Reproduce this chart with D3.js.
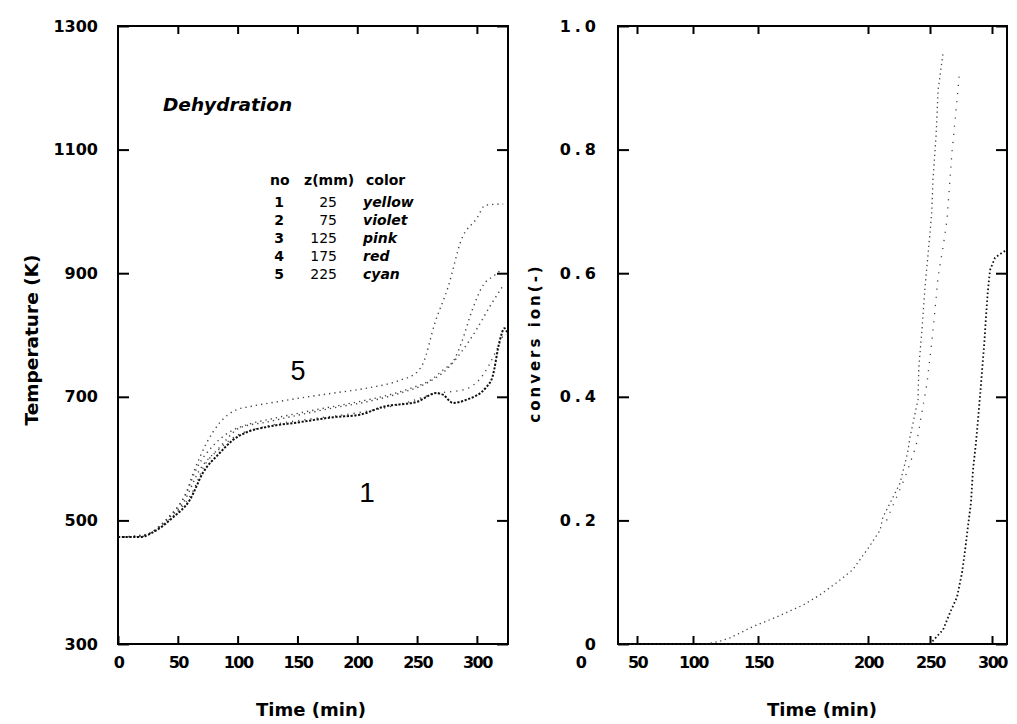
<!DOCTYPE html>
<meta charset="utf-8">
<style>
body { margin: 0; background: #fff; }
.tick text { font-family: "DejaVu Sans", sans-serif; font-weight: bold; fill: #000; }
.tick line { stroke: #000; stroke-width: 2; }
.frame { fill: none; stroke: #000; stroke-width: 2; }
.title { font-family: "DejaVu Sans", sans-serif; font-weight: bold; fill: #000; }
.legend { font-family: "DejaVu Sans", sans-serif; font-weight: bold; font-size: 14px; fill: #000; }
</style>
<svg width="1017" height="724"></svg>
<script src="https://d3js.org/d3.v7.min.js"></script>
<script>

// temperature (K) vs time (min), zones 1..5
var zone1 = [[0,473],[18,473],[32,484],[46,505],[60,533],[71,577],[85,609],[96,630],[108,643],[124,651],[152,659],[180,667],[202,671],[222,684],[250,692],[266,706],[272,703],[280,690],[291,695],[308,716],[313,732],[319,790],[323,811],[326,800]];
var zone2 = [[0,473],[20,474],[35,490],[50,515],[62,545],[72,588],[85,616],[100,638],[115,648],[130,655],[160,664],[200,674],[240,690],[265,705],[290,712],[305,735],[315,770],[322,800]];
var zone3 = [[0,473],[20,475],[40,500],[55,530],[68,581],[83,614],[102,650],[124,659],[152,671],[180,682],[208,692],[236,706],[258,722],[275,745],[288,775],[300,810],[312,850],[322,880]];
var zone4 = [[0,473],[22,476],[42,505],[56,540],[66,585],[80,622],[95,645],[110,656],[130,665],[160,677],[190,688],[220,700],[245,714],[262,728],[272,744],[281,760],[287,787],[296,840],[305,880],[315,897],[320,905]];
var zone5 = [[0,473],[25,478],[45,510],[57,545],[63,577],[74,625],[85,658],[99,679],[110,684],[133,692],[152,698],[180,706],[208,714],[236,727],[250,740],[255,754],[265,820],[276,878],[287,954],[300,989],[307,1010],[322,1012]];

// conversion (-) vs time (min)
var convA = [[110,0],[120,0.004],[128.5,0.01],[146,0.028],[158.6,0.044],[170.5,0.063],[178,0.079],[186,0.1],[193,0.12],[199.5,0.152],[209.7,0.184],[212,0.205],[225.8,0.26],[232,0.31],[233.9,0.335],[240.3,0.395],[241,0.448],[243.5,0.508],[246,0.578],[250,0.665],[251.5,0.702],[252.4,0.751],[254.8,0.82],[255.6,0.853],[256.5,0.896],[260.5,0.956]];
var convA2 = [[215,0.2],[230,0.27],[238.7,0.32],[247.6,0.422],[251.6,0.492],[254,0.54],[256.5,0.594],[260.5,0.642],[263.7,0.686],[267.7,0.795],[271.8,0.88],[274,0.929]];
var convB = [[33,0],[100,0],[200,0],[250,0],[260.5,0.023],[266,0.05],[271.8,0.076],[275.8,0.115],[278,0.147],[280.6,0.19],[283,0.228],[284.7,0.282],[287,0.325],[288.7,0.362],[290.3,0.4],[292,0.443],[294,0.492],[295,0.524],[296.5,0.568],[298.4,0.605],[302.4,0.625],[308,0.633],[312,0.638]];

var timeTicks = [0, 50, 100, 150, 200, 250, 300];
var tempTicks = [300, 500, 700, 900, 1100, 1300];
var convTicks = [0, 0.2, 0.4, 0.6, 0.8, 1.0];
var convLabels = ["0", "0.2", "0.4", "0.6", "0.8", "1.0"];

var legendHead = ["no", "z(mm)", "color"];
var legendNo = ["1", "2", "3", "4", "5"];
var legendZ = ["25", "75", "125", "175", "225"];
var legendColor = ["yellow", "violet", "pink", "red", "cyan"];

var svg = d3.select("svg");

// ---- left panel ----
var x1 = d3.scaleLinear().domain([0, 326]).range([118, 508]);
var y1 = d3.scaleLinear().domain([300, 1300]).range([644, 26]);

var left = svg.append("g");

left.append("g")
    .attr("transform", "translate(0,644)")
    .call(d3.axisBottom(x1).tickValues(timeTicks).tickSize(-8).tickPadding(13).tickFormat(d3.format("d")))
    .call(function(g) { g.select(".domain").remove(); })
    .call(function(g) { g.selectAll("text").attr("font-size", 16).attr("letter-spacing", -1.5); });
left.append("g")
    .attr("transform", "translate(0,26)")
    .call(d3.axisTop(x1).tickValues(timeTicks.slice(1)).tickSize(-8).tickFormat(""))
    .call(function(g) { g.select(".domain").remove(); });
left.append("g")
    .attr("transform", "translate(118,0)")
    .call(d3.axisLeft(y1).tickValues(tempTicks).tickSize(-11).tickPadding(20).tickFormat(d3.format("d")))
    .call(function(g) { g.select(".domain").remove(); })
    .call(function(g) { g.selectAll("text").attr("font-size", 16); });
left.append("g")
    .attr("transform", "translate(508,0)")
    .call(d3.axisRight(y1).tickValues(tempTicks).tickSize(-11).tickFormat(""))
    .call(function(g) { g.select(".domain").remove(); });

left.append("rect").attr("class", "frame")
    .attr("x", 118).attr("y", 26).attr("width", 390).attr("height", 618);

var line1 = d3.line()
    .x(function(d) { return x1(d[0]); })
    .y(function(d) { return y1(d[1]); })
    .curve(d3.curveMonotoneX);

var zones = [zone5, zone4, zone3, zone2, zone1];
left.selectAll(".zone")
  .data(zones)
  .enter().append("path")
    .attr("class", "zone")
    .attr("d", line1)
    .attr("fill", "none")
    .attr("stroke", function(d, i) { return i == 4 ? "#111" : "#444"; })
    .attr("stroke-width", function(d, i) { return i == 4 ? 2 : 1.4; })
    .attr("stroke-dasharray", function(d, i) { return i == 4 ? "2.2,1.6" : (i == 3 ? "1.2,5" : "1.3,4"); });

left.append("text")
    .attr("x", 163).attr("y", 111)
    .attr("font-family", "DejaVu Sans, sans-serif")
    .attr("font-weight", "bold").attr("font-style", "italic")
    .attr("font-size", 18.5)
    .text("Dehydration");

var lg = left.append("g").attr("class", "legend");
lg.append("text").attr("x", 270).attr("y", 185).text(legendHead[0]);
lg.append("text").attr("x", 304).attr("y", 185).text(legendHead[1]);
lg.append("text").attr("x", 366).attr("y", 185).text(legendHead[2]);
legendNo.forEach(function(n, i) {
  var yy = 207 + i * 18;
  lg.append("text").attr("x", 279).attr("y", yy).attr("text-anchor", "middle").text(n);
  lg.append("text").attr("x", 337).attr("y", yy).attr("text-anchor", "end")
      .attr("font-weight", "normal").text(legendZ[i]);
  lg.append("text").attr("x", 363).attr("y", yy).attr("font-style", "italic").text(legendColor[i]);
});

left.append("text")
    .attr("x", 298).attr("y", 380).attr("text-anchor", "middle")
    .attr("font-family", "Liberation Sans, sans-serif").attr("font-size", 27)
    .text("5");
left.append("text")
    .attr("x", 367).attr("y", 502).attr("text-anchor", "middle")
    .attr("font-family", "Liberation Sans, sans-serif").attr("font-size", 28)
    .text("1");

left.append("text").attr("class", "title")
    .attr("transform", "translate(38,340) rotate(-90)")
    .attr("text-anchor", "middle").attr("font-size", 18.5)
    .text("Temperature (K)");
left.append("text").attr("class", "title")
    .attr("x", 311).attr("y", 716)
    .attr("text-anchor", "middle").attr("font-size", 18)
    .text("Time (min)");

// ---- right panel ----
var x2 = d3.scaleLinear().domain([0, 50, 100, 150, 200, 250, 300]).range([580, 637, 693, 758, 868, 930, 992]);
var y2 = d3.scaleLinear().domain([0, 1]).range([644, 26]);

var right = svg.append("g");

right.append("g")
    .attr("transform", "translate(0,644)")
    .call(d3.axisBottom(x2).tickValues(timeTicks).tickSize(-8).tickPadding(13).tickFormat(d3.format("d")))
    .call(function(g) { g.select(".domain").remove(); })
    .call(function(g) {
      g.selectAll("text").attr("font-size", 16).attr("letter-spacing", -1.5);
      g.selectAll(".tick").filter(function(d) { return d == 0; }).select("line").remove();
    });
right.append("g")
    .attr("transform", "translate(0,26)")
    .call(d3.axisTop(x2).tickValues(timeTicks.slice(1)).tickSize(-8).tickFormat(""))
    .call(function(g) { g.select(".domain").remove(); });
right.append("g")
    .attr("transform", "translate(618,0)")
    .call(d3.axisLeft(y2).tickValues(convTicks).tickSize(-11).tickPadding(18)
        .tickFormat(function(d, i) { return convLabels[i]; }))
    .call(function(g) { g.select(".domain").remove(); })
    .call(function(g) {
      g.selectAll("text")
          .attr("font-family", "DejaVu Sans Mono, monospace")
          .attr("font-size", 16).attr("letter-spacing", 4);
    });
right.append("g")
    .attr("transform", "translate(1007,0)")
    .call(d3.axisRight(y2).tickValues(convTicks).tickSize(-11).tickFormat(""))
    .call(function(g) { g.select(".domain").remove(); });

right.append("rect").attr("class", "frame")
    .attr("x", 618).attr("y", 26).attr("width", 389).attr("height", 618);

var line2 = d3.line()
    .x(function(d) { return x2(d[0]); })
    .y(function(d) { return y2(d[1]); });

var convs = [convA2, convA, convB];
right.selectAll(".conv")
  .data(convs)
  .enter().append("path")
    .attr("class", "conv")
    .attr("d", line2)
    .attr("fill", "none")
    .attr("stroke", function(d, i) { return i == 2 ? "#111" : "#444"; })
    .attr("stroke-width", function(d, i) { return i == 2 ? 1.8 : 1.3; })
    .attr("stroke-dasharray", function(d, i) { return i == 2 ? "1.6,2.4" : (i == 0 ? "1.2,7" : "1.3,3.5"); });

right.append("text").attr("class", "title")
    .attr("transform", "translate(540,343) rotate(-90)")
    .attr("text-anchor", "middle")
    .attr("font-family", "DejaVu Sans Mono, monospace").attr("font-size", 15)
    .attr("letter-spacing", 3)
    .text("convers ion(-)");
right.append("text").attr("class", "title")
    .attr("x", 822).attr("y", 716)
    .attr("text-anchor", "middle").attr("font-size", 18)
    .text("Time (min)");

</script>
